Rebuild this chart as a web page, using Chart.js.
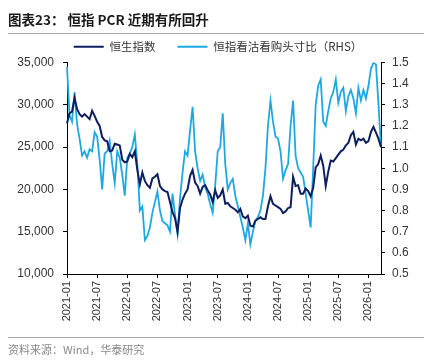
<!DOCTYPE html>
<html>
<head>
<meta charset="utf-8">
<script src="https://cdn.jsdelivr.net/npm/chart.js@4"></script>
<style>
  body { margin: 0; background: #fff; }
  #wrap { position: relative; width: 436px; height: 361px; overflow: hidden; }
  #c { position: absolute; left: 0; top: 0; }
  .title { position: absolute; left: 8px; top: 9px; font: bold 13.5px "Noto Sans CJK SC", sans-serif; color: #1a1a1a; white-space: nowrap; }
  .rule { position: absolute; left: 8px; width: 416px; height: 1px; background: #a8a8a8; }
  .src { position: absolute; left: 8px; top: 341px; font: 11px "Noto Sans CJK SC", sans-serif; color: #8a8a8a; white-space: nowrap; }
</style>
</head>
<body>
<div id="wrap">
  <canvas id="c" width="436" height="361"></canvas>
  <div class="title">图表23：&nbsp;恒指 PCR 近期有所回升</div>
  <div class="rule" style="top:33px"></div>
  <div class="rule" style="top:337px"></div>
  <div class="src">资料来源：Wind，华泰研究</div>
</div>
<script>
// half-month dates, 2021-01-01 .. 2026-03-16
const dates = [];
for (let y = 2021; y <= 2026; y++) {
  for (let m = 1; m <= 12; m++) {
    if (y === 2026 && m > 3) break;
    const mm = String(m).padStart(2, '0');
    dates.push(y + '-' + mm + '-01', y + '-' + mm + '-16');
  }
}

// 恒生指数 (left axis)
const hsi = [
  27800, 29000, 29200, 30800, 29500, 28900, 28600, 28900, 28600, 28300, 29300, 28700,
  28000, 27500, 26200, 25800, 25700, 24500, 24600, 25400, 25300, 25200, 23500, 23200,
  23300, 24200, 23800, 24500, 22300, 20600, 22000, 21000, 20500, 20200, 21300, 21500,
  21800, 20400, 20000, 19800, 19700, 18500, 17300, 16600, 15000, 17800, 18800, 19500,
  20000, 21600, 22300, 20800, 20400, 19500, 20300, 20500, 19900, 19400, 18500, 19900,
  19000, 19300, 20000, 18300, 18400, 18000, 17800, 17600, 17300, 17700, 16800, 16600,
  16900, 15700, 15600, 16300, 16500, 16700, 16500, 16500, 18000, 19200, 18300, 18100,
  17900, 17700, 17200, 17400, 17800, 17900, 21500, 20400, 20500, 19500, 19500, 20100,
  19800, 19200, 20200, 22600, 23000, 24000, 22800, 20400, 22100, 23400, 23300, 23700,
  24100, 24500, 24700, 25200, 25500, 26400, 26800, 25300, 26000, 25800, 26000, 25500,
  25700, 26800, 27400, 26700, 26000, 25000
];

// 恒指看沽看购头寸比 (right axis)
const pcr = [
  1.48, 1.25, 1.22, 1.36, 1.21, 1.14, 1.06, 1.08, 1.05, 1.09, 1.08, 1.17,
  1.15, 1.04, 0.90, 1.07, 1.08, 1.13, 1.02, 0.93, 1.08, 1.05, 0.97, 0.87,
  1.05, 1.07, 1.10, 1.16, 1.02, 0.80, 0.82, 0.66, 0.68, 0.72, 0.79, 0.84,
  0.89, 0.80, 0.75, 0.74, 0.73, 0.70, 0.88, 0.78, 0.69, 0.86, 0.98, 1.08,
  1.06, 1.18, 1.29, 1.08, 1.00, 0.94, 0.97, 0.91, 0.88, 0.83, 0.79, 0.92,
  1.08, 1.10, 1.26, 1.02, 0.90, 0.93, 0.95, 0.87, 0.82, 0.77, 0.72, 0.66,
  0.74, 0.64, 0.70, 0.75, 0.77, 0.80, 0.87, 1.00, 1.20, 1.32, 1.22, 1.15,
  1.14, 1.08, 0.95, 0.99, 1.02, 1.20, 1.32, 1.06, 1.00, 0.98, 0.96, 0.88,
  0.80, 0.72, 1.00, 1.30, 1.39, 1.42, 1.22, 1.20, 1.27, 1.33, 1.36, 1.42,
  1.31, 1.36, 1.38, 1.27, 1.34, 1.37, 1.33, 1.26, 1.38, 1.32, 1.37, 1.33,
  1.39, 1.47, 1.50, 1.49, 1.30, 1.10
];

const tickMonths = ['01', '07'];

const ctx = document.getElementById('c').getContext('2d');
new Chart(ctx, {
  type: 'line',
  data: {
    labels: dates,
    datasets: [
      {
        label: '恒生指数',
        data: hsi,
        yAxisID: 'y',
        borderColor: '#0d1f5e',
        backgroundColor: '#0d1f5e',
        borderWidth: 2,
        pointRadius: 0,
        tension: 0
      },
      {
        label: '恒指看沽看购头寸比（RHS）',
        data: pcr,
        yAxisID: 'y1',
        borderColor: '#1ea8e2',
        backgroundColor: '#1ea8e2',
        borderWidth: 1.8,
        pointRadius: 0,
        tension: 0
      }
    ]
  },
  options: {
    responsive: false,
    animation: false,
    layout: { padding: { top: 19, left: 0, right: 0, bottom: 0 } },
    plugins: {
      tooltip: { enabled: false },
      legend: {
        labels: {
          usePointStyle: true,
          pointStyle: 'line',
          pointStyleWidth: 30,
          padding: 22,
          color: '#333',
          font: { size: 11.5, family: '"Noto Sans CJK SC", sans-serif' }
        }
      }
    },
    scales: {
      x: {
        offset: false,
        afterBuildTicks: axis => {
          axis.ticks = axis.ticks.filter(t => {
            const d = dates[t.value];
            return d.endsWith('-01') && tickMonths.includes(d.slice(5, 7));
          });
        },
        afterFit: s => { s.height = 87; },
        grid: { display: true, drawOnChartArea: false, drawTicks: true, tickLength: 4, color: '#000' },
        border: { color: '#000' },
        ticks: {
          autoSkip: false,
          maxRotation: 90,
          minRotation: 90,
          padding: 3,
          color: '#333',
          font: { size: 11, family: '"Liberation Sans", Arial, sans-serif' },
          callback: function (v) { return dates[v].slice(0, 7); }
        }
      },
      y: {
        position: 'left',
        min: 10000,
        max: 35000,
        afterFit: s => { s.width = 67; },
        grid: { display: true, drawOnChartArea: false, tickLength: 4, color: '#000' },
        border: { color: '#000' },
        ticks: {
          stepSize: 5000,
          padding: 9,
          color: '#333',
          font: { size: 12, family: '"Liberation Sans", Arial, sans-serif' },
          callback: v => v.toLocaleString('en-US')
        }
      },
      y1: {
        position: 'right',
        min: 0.5,
        max: 1.5,
        afterFit: s => { s.width = 55; },
        grid: { display: true, drawOnChartArea: false, tickLength: 4, color: '#000' },
        border: { color: '#000' },
        ticks: {
          stepSize: 0.1,
          padding: 7,
          color: '#333',
          font: { size: 12, family: '"Liberation Sans", Arial, sans-serif' },
          callback: v => v.toFixed(1)
        }
      }
    }
  }
});
</script>
</body>
</html>
